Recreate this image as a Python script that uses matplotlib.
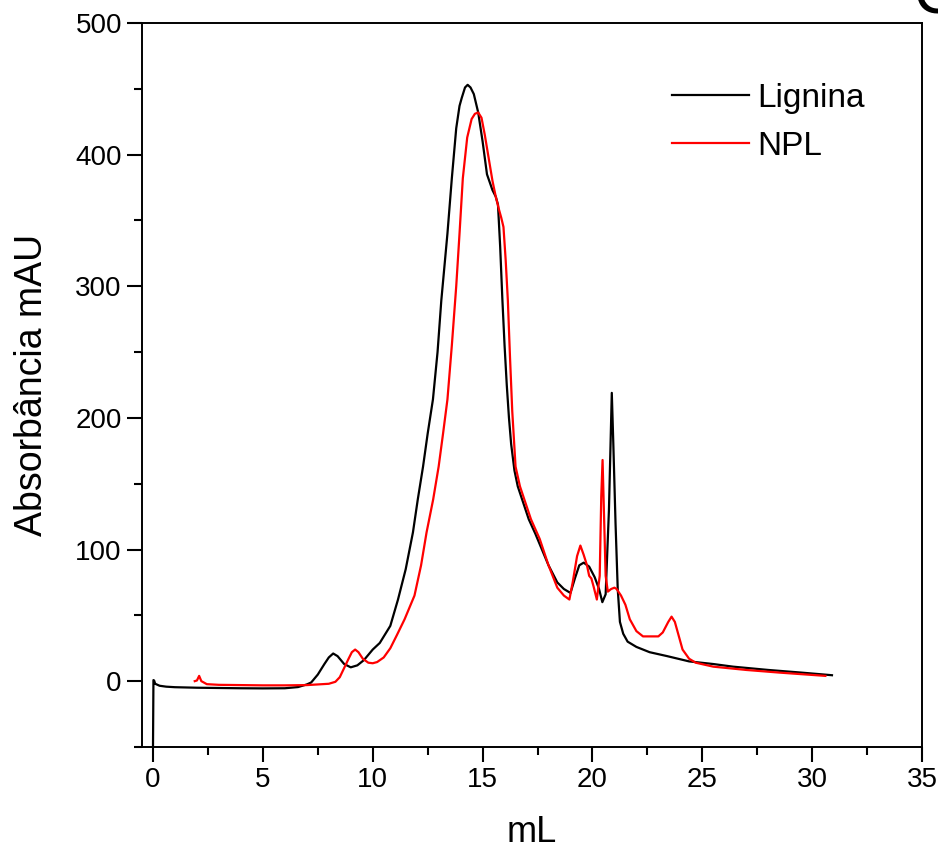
import matplotlib
matplotlib.use('Agg')
import matplotlib.pyplot as plt
from matplotlib.ticker import MultipleLocator

plt.rcParams['font.family'] = ['Liberation Sans', 'DejaVu Sans']

# Lignina (black) - volume mL / absorbance mAU
lig_x = [0.0, 0.02, 0.05, 0.1, 0.3, 0.6, 1.0, 2.0, 3.0, 4.0, 5.0, 6.0, 6.6, 7.0, 7.2,
         7.5, 7.8, 8.0, 8.2, 8.4, 8.7, 9.0, 9.3, 9.6, 10.0, 10.32, 10.8, 11.15, 11.5,
         11.83, 12.05, 12.29, 12.5, 12.74, 12.95, 13.12, 13.4, 13.6, 13.8, 13.95,
         14.05, 14.2, 14.32, 14.45, 14.6, 14.8, 15.0, 15.2, 15.45, 15.6, 15.7, 15.8,
         15.9, 16.0, 16.1, 16.2, 16.3, 16.45, 16.6, 16.8, 17.1, 17.4, 17.7, 18.0,
         18.4, 18.7, 19.0, 19.2, 19.4, 19.6, 19.85, 20.1, 20.3, 20.45, 20.6, 20.75,
         20.88, 20.95, 21.05, 21.15, 21.25, 21.4, 21.6, 22.0, 22.6, 23.4, 24.4, 25.5,
         26.4, 28.0, 29.5, 30.9]
lig_y = [-50, 0.8, 0.5, -2, -3.5, -4.2, -4.6, -5.0, -5.2, -5.4, -5.5, -5.4, -4.5, -2.5, -1,
         5, 13, 18, 21, 19, 13, 10.5, 12, 16, 24, 29, 42, 62, 85,
         113, 138, 163, 188, 214, 250, 289, 340, 382, 420, 437,
         443, 451, 453, 451, 446, 432, 410, 385, 373, 368, 362, 330,
         290, 255, 225, 200, 180, 160, 148, 138, 123, 112, 100, 88,
         75, 70, 67, 78, 88, 90, 87, 79, 70, 60, 66, 130,
         219, 180, 120, 70, 45, 36, 30, 26, 22, 19, 15, 13,
         11, 8.5, 6.5, 4.5]

# NPL (red)
npl_x = [1.9, 2.0, 2.1, 2.2, 2.45, 3.0, 4.0, 5.0, 6.0, 7.0, 8.0, 8.3, 8.5, 8.7,
         8.9, 9.05, 9.2, 9.35, 9.55, 9.8, 10.0, 10.2, 10.5, 10.8, 11.1, 11.45, 11.9,
         12.2, 12.45, 12.75, 13.0, 13.2, 13.4, 13.6, 13.8, 13.95, 14.1, 14.3, 14.5,
         14.65, 14.8, 14.95, 15.1, 15.3, 15.45, 15.6, 15.75, 15.85, 15.95, 16.05,
         16.15, 16.25, 16.35, 16.5, 16.7, 16.9, 17.2, 17.6, 18.0, 18.4, 18.7, 18.95,
         19.1, 19.3, 19.45, 19.6, 19.75, 19.85, 19.95, 20.05, 20.2, 20.33, 20.4,
         20.46, 20.52, 20.6, 20.7, 20.85, 21.0, 21.1, 21.3, 21.5, 21.7, 22.0, 22.3,
         23.0, 23.2, 23.45, 23.6, 23.75, 23.95, 24.1, 24.4, 24.7, 25.5, 27.0, 28.5,
         30.6]
npl_y = [0, 0.5, 4, 0, -2.3, -2.8, -3.0, -3.2, -3.2, -3.0, -2.0, -0.5, 3, 10,
         17, 22, 24, 22, 17, 14, 13.6, 14.5, 18, 25, 35, 47, 65,
         88, 113, 138, 163, 188, 214, 255, 300, 340, 382, 413, 427,
         431, 432, 428, 415, 395, 380, 368, 358, 352, 345, 320,
         289, 245, 205, 163, 148, 138, 123, 108, 88, 71, 65, 62,
         75, 95, 103, 96, 88, 80, 78, 72, 62, 80, 140,
         168, 130, 80, 68, 70, 71, 70, 65, 58, 47, 38, 34,
         34, 37, 45, 49, 45, 33, 24, 17, 14, 11, 8.5, 6.5,
         4]

fig = plt.figure(figsize=(9.38, 8.57), dpi=100)
ax = fig.add_axes([0.1514, 0.1284, 0.8316, 0.8448])

ax.plot(lig_x, lig_y, color="black", lw=1.6, label="Lignina")
ax.plot(npl_x, npl_y, color="#FF0000", lw=1.6, label="NPL")

ax.set_xlim(-0.5, 35)
ax.set_ylim(-50, 500)
ax.xaxis.set_major_locator(MultipleLocator(5))
ax.xaxis.set_minor_locator(MultipleLocator(2.5))
ax.yaxis.set_major_locator(MultipleLocator(100))
ax.yaxis.set_minor_locator(MultipleLocator(50))
ax.tick_params(which="major", direction="out", length=11, width=1.5, labelsize=20,
               top=False, right=False)
ax.tick_params(which="minor", direction="out", length=6, width=1.5, top=False, right=False)
for sp in ax.spines.values():
    sp.set_linewidth(1.4)

ax.set_xlabel("mL", fontsize=26, labelpad=16)
ax.set_ylabel("Absorbância mAU", fontsize=27, labelpad=18)

ax.legend(loc="upper left", bbox_to_anchor=(0.68, 0.917), frameon=False, fontsize=24,
          borderpad=0, borderaxespad=0, handlelength=2.3, handletextpad=0.25,
          labelspacing=0.5)

# panel letter, cut off at the figure edge as in the source
fig.text(0.9744, 0.9837, "C", fontsize=44, ha="left", va="baseline")

fig.savefig("out.png", dpi=100)
